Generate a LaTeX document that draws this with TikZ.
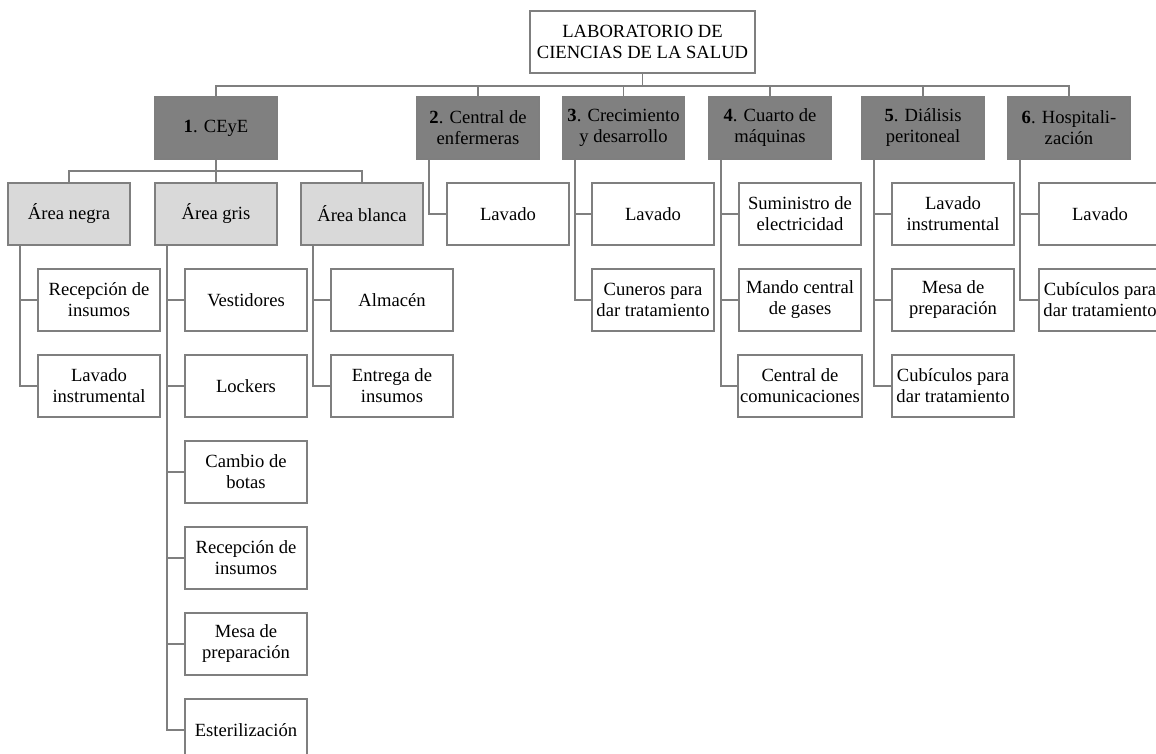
\documentclass[tikz,border=0pt]{standalone}
\usepackage{fontspec}
\setmainfont{Liberation Serif}
\usepackage{tikz}
\usepackage{xcolor}
\usetikzlibrary{positioning,calc}

\definecolor{linegray}{HTML}{7F7F7F}
\definecolor{darkbox}{HTML}{808080}
\definecolor{lightbox}{HTML}{D9D9D9}

\begin{document}
\begin{tikzpicture}[x=1pt, y=-1pt,
    font=\fontsize{18.6}{21}\selectfont,
    box/.style={draw=linegray, line width=1.7pt, align=center, minimum width=122pt, minimum height=62pt, inner sep=2pt},
    topbox/.style={box, fill=darkbox},
    areabox/.style={box, fill=lightbox},
    leafbox/.style={box, fill=white},
    link/.style={draw=linegray, line width=1.7pt}]
    \fill[white] (0,0) rectangle (1156,753);
    \useasboundingbox (0,0) rectangle (1156,753);

    % Root
    \node[box, minimum width=225pt] (root) at (642.5,42) {LABORATORIO DE\\CIENCIAS DE LA SALUD};

    % Main areas
    \node[topbox] (t1) at (216,128) {\textbf{1}. CEyE};
    \node[topbox] (t2) at (478,128) {\textbf{2}. Central de\\enfermeras};
    \node[topbox] (t3) at (623.5,128) {\textbf{3}. Crecimiento\\y desarrollo};
    \node[topbox] (t4) at (770,128) {\textbf{4}. Cuarto de\\máquinas};
    \node[topbox] (t5) at (923,128) {\textbf{5}. Diálisis\\peritoneal};
    \node[topbox] (t6) at (1069,128) {\textbf{6}. Hospitali-\\zación};

    % Root to main areas
    \coordinate (bus) at (642.5,86);
    \draw[link] (root) -- (bus);
    \draw[link] (bus) -| (t1.north);
    \draw[link] (bus) -| (t2.north);
    \draw[link] (bus) -| (t3.north);
    \draw[link] (bus) -| (t4.north);
    \draw[link] (bus) -| (t5.north);
    \draw[link] (bus) -| (t6.north);

    % CEyE zones
    \node[areabox] (negra) at (69,214) {Área negra};
    \node[areabox] (gris) at (216,214) {Área gris};
    \node[areabox] (blanca) at (362,214) {Área blanca};

    \coordinate (ceyebus) at (216,171);
    \draw[link] (t1) -- (ceyebus);
    \draw[link] (ceyebus) -| (negra.north);
    \draw[link] (ceyebus) -| (gris.north);
    \draw[link] (ceyebus) -| (blanca.north);

    % Area negra
    \node[leafbox] (n1) at (99,300) {Recepción de\\insumos};
    \node[leafbox] (n2) at (99,386) {Lavado\\instrumental};
    \draw[link] ([xshift=13pt]negra.south west) |- (n1.west);
    \draw[link] ([xshift=13pt]negra.south west) |- (n2.west);

    % Area gris
    \node[leafbox] (g1) at (246,300) {Vestidores};
    \node[leafbox] (g2) at (246,386) {Lockers};
    \node[leafbox] (g3) at (246,472) {Cambio de\\botas};
    \node[leafbox] (g4) at (246,558) {Recepción de\\insumos};
    \node[leafbox] (g5) at (246,644) {Mesa de\\preparación};
    \node[leafbox] (g6) at (246,730) {Esterilización};
    \draw[link] ([xshift=13pt]gris.south west) |- (g1.west);
    \draw[link] ([xshift=13pt]gris.south west) |- (g2.west);
    \draw[link] ([xshift=13pt]gris.south west) |- (g3.west);
    \draw[link] ([xshift=13pt]gris.south west) |- (g4.west);
    \draw[link] ([xshift=13pt]gris.south west) |- (g5.west);
    \draw[link] ([xshift=13pt]gris.south west) |- (g6.west);

    % Area blanca
    \node[leafbox] (w1) at (392,300) {Almacén};
    \node[leafbox] (w2) at (392,386) {Entrega de\\insumos};
    \draw[link] ([xshift=13pt]blanca.south west) |- (w1.west);
    \draw[link] ([xshift=13pt]blanca.south west) |- (w2.west);

    % Central de enfermeras
    \node[leafbox] (e1) at (508,214) {Lavado};
    \draw[link] ([xshift=13pt]t2.south west) |- (e1.west);

    % Crecimiento y desarrollo
    \node[leafbox] (c1) at (653,214) {Lavado};
    \node[leafbox] (c2) at (653,300) {Cuneros para\\dar tratamiento};
    \draw[link] ([xshift=13pt]t3.south west) |- (c1.west);
    \draw[link] ([xshift=13pt]t3.south west) |- (c2.west);

    % Cuarto de maquinas
    \node[leafbox] (m1) at (800,214) {Suministro de\\electricidad};
    \node[leafbox] (m2) at (800,300) {Mando central\\de gases};
    \node[leafbox] (m3) at (800,386) {Central de\\comunicaciones};
    \draw[link] ([xshift=13pt]t4.south west) |- (m1.west);
    \draw[link] ([xshift=13pt]t4.south west) |- (m2.west);
    \draw[link] ([xshift=13pt]t4.south west) |- (m3.west);

    % Dialisis peritoneal
    \node[leafbox] (d1) at (953,214) {Lavado\\instrumental};
    \node[leafbox] (d2) at (953,300) {Mesa de\\preparación};
    \node[leafbox] (d3) at (953,386) {Cubículos para\\dar tratamiento};
    \draw[link] ([xshift=13pt]t5.south west) |- (d1.west);
    \draw[link] ([xshift=13pt]t5.south west) |- (d2.west);
    \draw[link] ([xshift=13pt]t5.south west) |- (d3.west);

    % Hospitalizacion
    \node[leafbox] (h1) at (1100,214) {Lavado};
    \node[leafbox] (h2) at (1100,300) {Cubículos para\\dar tratamiento};
    \draw[link] ([xshift=13pt]t6.south west) |- (h1.west);
    \draw[link] ([xshift=13pt]t6.south west) |- (h2.west);
\end{tikzpicture}
\end{document}
